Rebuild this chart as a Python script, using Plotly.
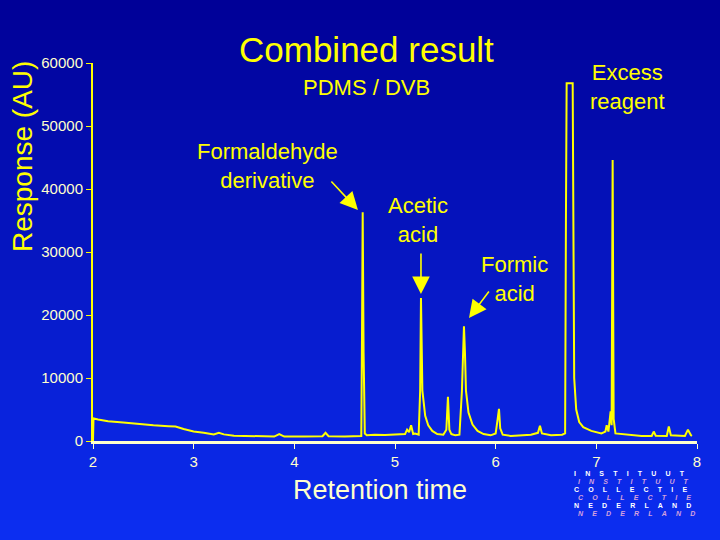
import plotly.graph_objects as go

# ---- data ----
retention_time = [
    2.000, 2.005, 2.05, 2.15, 2.30, 2.45, 2.60, 2.75, 2.82, 2.90, 3.00, 3.10, 3.20, 3.25, 3.30,
    3.40, 3.60, 3.80, 3.85, 3.90, 4.10, 4.28, 4.31, 4.34, 4.50, 4.64, 4.665, 4.672, 4.679, 4.688,
    4.70, 4.72, 4.80, 4.90, 5.00, 5.10, 5.12, 5.14, 5.16, 5.18, 5.20, 5.235, 5.25, 5.258, 5.272,
    5.30, 5.33, 5.37, 5.42, 5.48, 5.51, 5.526, 5.54, 5.56, 5.60, 5.64, 5.665, 5.685, 5.695, 5.705,
    5.73, 5.77, 5.82, 5.88, 5.95, 6.00, 6.02, 6.033, 6.045, 6.07, 6.15, 6.25, 6.35, 6.42, 6.44,
    6.46, 6.55, 6.66, 6.69, 6.698, 6.705, 6.765, 6.770, 6.78, 6.80, 6.83, 6.87, 6.95, 7.05, 7.09,
    7.103, 7.12, 7.142, 7.152, 7.162, 7.172, 7.19, 7.30, 7.45, 7.55, 7.57, 7.59, 7.70, 7.72, 7.74,
    7.88, 7.91, 7.94, 7.95,
]
response = [
    0, 3600, 3400, 3150, 2950, 2700, 2500, 2350, 2300, 1900, 1500, 1300, 1050, 1300, 1050,
    850, 750, 700, 1100, 700, 700, 750, 1300, 750, 700, 750, 800, 16000, 36300, 14000,
    1200, 900, 1000, 950, 1000, 1100, 1800, 1400, 2500, 1100, 1200, 1000, 8000, 22700, 8000,
    4000, 2500, 1600, 1100, 1000, 1800, 7000, 1800, 1100, 900, 1000, 8000, 18200, 14000, 8000,
    4500, 2600, 1600, 1100, 900, 1200, 3500, 5100, 2000, 1000, 800, 900, 1000, 1300, 2400,
    1200, 900, 1000, 1200, 35000, 56800, 56800, 27000, 10000, 5000, 3000, 2200, 1600, 1200, 1500,
    2500, 1500, 4700, 2500, 44600, 3500, 1200, 1000, 800, 800, 1500, 850, 800, 2300, 900,
    800, 1800, 900, 800,
]

x_ticks = [2, 3, 4, 5, 6, 7, 8]
y_ticks = [0, 10000, 20000, 30000, 40000, 50000, 60000]

peak_labels = ["Formaldehyde<br>derivative", "Acetic<br>acid", "Formic<br>acid", "Excess<br>reagent"]
label_x = [3.738, 5.228, 6.192, 7.314]
label_y = [43650, 35080, 25710, 56190]

arrow_tip_x = [4.632, 5.258, 5.735]
arrow_tip_y = [36670, 23330, 19520]
arrow_tail_x = [4.354, 5.258, 5.944]
arrow_tail_y = [41430, 30000, 23970]

logo_rows = ["INSTITUUT", "INSTITUUT", "COLLECTIE", "COLLECTIE", "NEDERLAND", "NEDERLAND"]

# ---- figure ----
W, H = 720, 540
L, R, T, B = 93, 23, 63, 99
pw, ph = W - L - R, H - T - B
FONT = "Liberation Sans, Arial, sans-serif"
YEL = "#ffff00"
CREAM = "#ffffcc"


def px_to_paper(px, py):
    return (px - L) / pw, (H - B - py) / ph


fig = go.Figure()
fig.add_trace(go.Scatter(x=retention_time, y=response, mode="lines",
                         line=dict(color=YEL, width=2), hoverinfo="skip",
                         cliponaxis=False))

# background gradient (dark navy top -> bright blue bottom)
shapes = []
n = 54
top = (0, 0, 150)
bot = (12, 46, 242)
for i in range(n):
    t = (i + 0.5) / n
    c = tuple(int(round(top[k] + (bot[k] - top[k]) * t)) for k in range(3))
    x0, y0 = px_to_paper(0, i * H / n)
    x1, y1 = px_to_paper(W, (i + 1) * H / n + 1)
    shapes.append(dict(type="rect", xref="paper", yref="paper", x0=x0, x1=x1, y0=y1, y1=y0,
                       line=dict(width=0), fillcolor="rgb(%d,%d,%d)" % c, layer="below"))

annotations = []


def paper_text(text, px, py, size, color, angle=0, xanchor="center", align="center"):
    x, y = px_to_paper(px, py)
    annotations.append(dict(text=text, x=x, y=y, xref="paper", yref="paper", textangle=angle,
                            xanchor=xanchor, yanchor="middle", showarrow=False, align=align,
                            font=dict(family=FONT, size=size, color=color)))


# title & subtitle
paper_text("Combined result", 366, 50, 35, YEL)
paper_text("PDMS / DVB", 366, 87, 22, YEL)
# axis titles
paper_text("Response (AU)", 22, 157, 28, YEL, angle=-90)
paper_text("Retention time", 380, 490, 27, CREAM)
# peak labels
for txt, lx, ly in zip(peak_labels, label_x, label_y):
    annotations.append(dict(text=txt, x=lx, y=ly, xref="x", yref="y", showarrow=False,
                            xanchor="center", yanchor="middle",
                            font=dict(family=FONT, size=22, color=YEL)))
# arrows
for tx, ty, ax, ay in zip(arrow_tip_x, arrow_tip_y, arrow_tail_x, arrow_tail_y):
    annotations.append(dict(text="", x=tx, y=ty, ax=ax, ay=ay, xref="x", yref="y",
                            axref="x", ayref="y", showarrow=True, arrowhead=2,
                            arrowsize=2.2, arrowwidth=1.6, arrowcolor=YEL))
# logo: one block, six tightly spaced rows (line pitch 8 px)
sep = "\u00a0" * 4 + "\u2009"
lines = []
for i, word in enumerate(logo_rows):
    spaced = sep.join(list(word))
    if i % 2 == 0:
        lines.append('<span style="font-size:7px;color:#ffffff"><b>%s</b></span>' % spaced)
    else:
        lines.append('<span style="font-size:7px;color:#d4a0dc"><b><i>\u00a0\u00a0%s</i></b></span>'
                     % spaced)
paper_text("<br>".join(lines), 572, 493.5, 8 / 1.3, "#ffffff", xanchor="left", align="left")

fig.update_layout(
    width=W, height=H, margin=dict(l=L, r=R, t=T, b=B),
    paper_bgcolor="#0010c8", plot_bgcolor="rgba(0,0,0,0)", showlegend=False,
    shapes=shapes, annotations=annotations,
    xaxis=dict(range=[2, 8], tickvals=x_ticks, showgrid=False, zeroline=False,
               showline=True, linecolor=CREAM, linewidth=3, ticks="outside", ticklen=5,
               tickcolor=CREAM, tickwidth=1, ticklabelstandoff=0,
               tickfont=dict(family=FONT, size=15, color=CREAM)),
    yaxis=dict(range=[0, 60000], tickvals=y_ticks, tickformat="d", showgrid=False,
               zeroline=False, showline=True, linecolor=YEL, linewidth=2, ticks="outside",
               ticklen=5, tickcolor=YEL, tickwidth=1,
               tickfont=dict(family=FONT, size=15, color=CREAM)),
)

fig.write_html("out.html")
